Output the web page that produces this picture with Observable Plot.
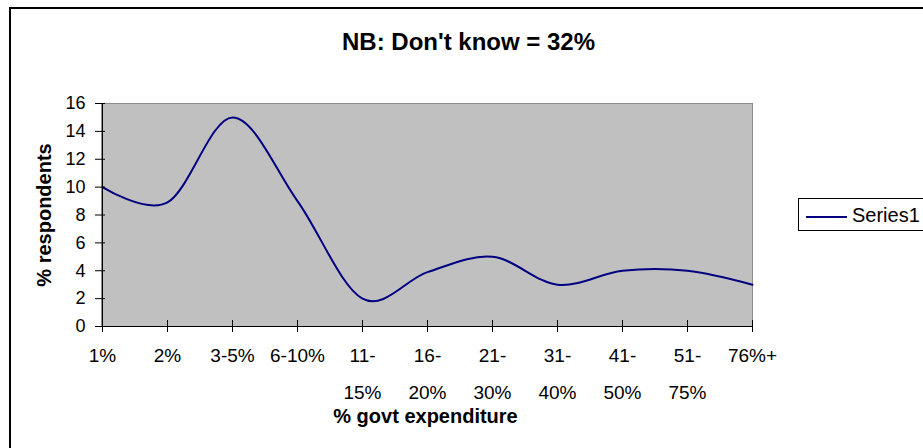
<!DOCTYPE html>
<html>
<head>
<meta charset="utf-8">
<script src="https://cdn.jsdelivr.net/npm/d3@7"></script>
<script src="https://cdn.jsdelivr.net/npm/@observablehq/plot@0.6"></script>
<style>
  html, body { margin: 0; padding: 0; background: #fff; overflow: hidden; }
  #wrap { position: relative; width: 923px; height: 448px; overflow: hidden; background: #fff;
          font-family: "Liberation Sans", Arial, sans-serif; }
  #border { position: absolute; left: 9px; top: 7px; width: 1000px; height: 1000px;
            border: 2px solid #000; box-sizing: border-box; }
  #chart { position: absolute; left: 0; top: 0; }
  #legend { position: absolute; left: 798px; top: 198px; width: 200px; height: 33px;
            border: 1px solid #000; box-sizing: border-box; background: #fff; }
  #legend .swatch { position: absolute; left: 7px; top: 17px; width: 41px; height: 2px; background: #000080; }
  #legend .label { position: absolute; left: 53px; top: 5px; font-size: 20px; line-height: 22px; color: #000; }
</style>
</head>
<body>
<div id="wrap">
  <div id="border"></div>
  <div id="chart"></div>
  <div id="legend"><div class="swatch"></div><div class="label"></div></div>
</div>
<script>
const categories = ["1%", "2%", "3-5%", "6-10%", "11-15%", "16-20%", "21-30%", "31-40%", "41-50%", "51-75%", "76%+"];
const respondents = [10, 8.9, 15, 9, 2, 3.9, 5, 3, 4, 4, 3];
const tickLine1 = ["1%", "2%", "3-5%", "6-10%", "11-", "16-", "21-", "31-", "41-", "51-", "76%+"];
const tickLine2 = ["", "", "", "", "15%", "20%", "30%", "40%", "50%", "75%", ""];
const yTicks = [0, 2, 4, 6, 8, 10, 12, 14, 16];
const seriesName = "Series1";
const chartTitle = "NB: Don't know = 32%";
const xTitle = "% govt expenditure";
const yTitle = "% respondents";

const table = categories.map((c, i) => ({category: c, value: respondents[i]}));
const idx = d => categories.indexOf(d);

const chart = Plot.plot({
  width: 923,
  height: 448,
  marginLeft: 101,
  marginRight: 171,
  marginTop: 103,
  marginBottom: 122,
  style: {fontFamily: "Liberation Sans, Arial, sans-serif", fontSize: "18px", color: "#000", background: "transparent", overflow: "visible"},
  x: {type: "point", domain: categories, padding: 0, label: null},
  y: {domain: [0, 16], label: null},
  marks: [
    Plot.frame({fill: "#c0c0c0", stroke: "#8c8c8c"}),
    Plot.line(table, {x: "category", y: "value", stroke: "#000080", strokeWidth: 2, curve: "cardinal", tension: 0}),
    Plot.ruleY([0], {stroke: "#000"}),
    Plot.ruleX([categories[0]], {stroke: "#000"}),
    Plot.axisY(yTicks, {tickSize: 10, dx: 4, stroke: "#000", tickFormat: () => ""}),
    Plot.axisY(yTicks, {tickSize: 0, tickPadding: 16, fontSize: 18, fill: "#000"}),
    Plot.axisX({tickSize: 12, dy: -6, stroke: "#000", tickFormat: () => ""}),
    Plot.axisX({tickSize: 0, tickPadding: 22, fontSize: 19, fill: "#000", tickFormat: d => tickLine1[idx(d)]}),
    Plot.axisX({tickSize: 0, tickPadding: 59, fontSize: 19, fill: "#000", tickFormat: d => tickLine2[idx(d)]}),
    Plot.text([chartTitle], {text: d => d, frameAnchor: "top", dx: 41.5, dy: -53.7, lineAnchor: "bottom", fontSize: 24, fontWeight: "bold", fill: "#000"}),
    Plot.text([xTitle], {text: d => d, frameAnchor: "bottom", dx: -1.5, dy: 96, lineAnchor: "bottom", fontSize: 20, fontWeight: "bold", fill: "#000"}),
    Plot.text([yTitle], {text: d => d, frameAnchor: "left", dx: -57, rotate: -90, textAnchor: "middle", lineAnchor: "middle", fontSize: 20, fontWeight: "bold", fill: "#000"})
  ]
});
document.getElementById("chart").appendChild(chart);
document.querySelector("#legend .label").textContent = seriesName;
</script>
</body>
</html>
